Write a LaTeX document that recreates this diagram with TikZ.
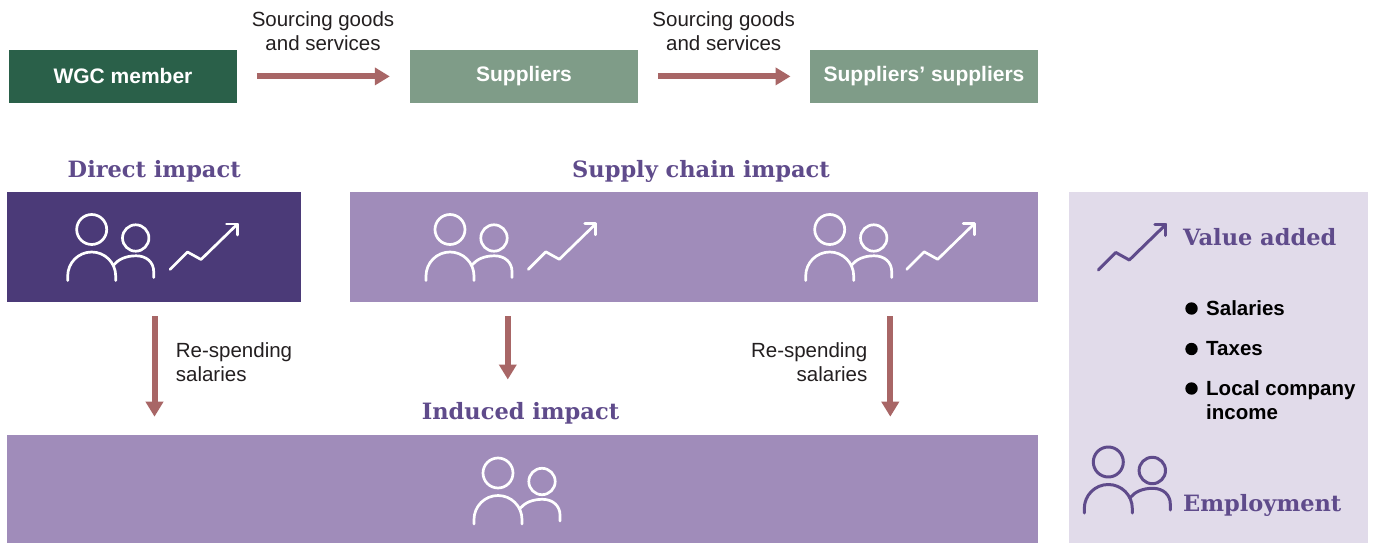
\documentclass[tikz,border=0pt]{standalone}
\usepackage{fontspec}
\setmainfont{Liberation Sans}
\newfontfamily\slab{DejaVu Serif}
\usetikzlibrary{arrows.meta}
\definecolor{dgreen}{HTML}{2A6049}
\definecolor{lgreen}{HTML}{7F9C88}
\definecolor{arrowred}{HTML}{A86666}
\definecolor{dpurple}{HTML}{4B3A78}
\definecolor{mpurple}{HTML}{A08CBA}
\definecolor{lpurple}{HTML}{E1DBEA}
\definecolor{hpurple}{HTML}{5F4B8B}
\definecolor{txt}{HTML}{231F20}
\tikzset{
  box/.style={inner sep=0pt, minimum height=53pt, minimum width=228pt, text=white,
    font=\bfseries\fontsize{21}{25}\selectfont},
  panel/.style={inner sep=0pt},
  flow/.style={draw=arrowred, line width=6pt, -{Triangle[length=15pt,width=17pt]}},
  heading/.style={text=hpurple, font=\slab\bfseries\fontsize{22.5}{26}\selectfont, inner sep=0pt, anchor=base},
  lbl/.style={text=txt, font=\fontsize{20.5}{24}\selectfont, inner sep=0pt},
  bul/.style={text=black, font=\bfseries\fontsize{20.5}{24}\selectfont, inner sep=0pt, anchor=base west},
  people/.pic={
    \draw (0,0) circle[radius=15];
    \draw (44,8.5) circle[radius=13.2];
    \draw (-24,51) -- (-24,46.5) arc[start angle=180,end angle=360,radius=24] -- (24,51);
    \draw (22,35.5) .. controls (26.5,30) and (34,26.3) .. (44.5,26.3)
          .. controls (55,26.3) and (62,33) .. (62,42) -- (62,48);
  },
  trend/.pic={
    \draw (0,0) -- (17.5,-17.5) -- (31,-10) -- (67.5,-45.5);
    \draw (56.5,-45.5) -- (67.5,-45.5) -- (67.5,-34.5);
  },
  icon/.style={line width=2.7pt, line cap=round, line join=round}
}
\begin{document}
\begin{tikzpicture}[x=1pt,y=-1pt]
\useasboundingbox (0,0) rectangle (1373,543);
\fill[white] (0,0) rectangle (1373,543);

% top row
\node[box, fill=dgreen] (wgc) at (123,76.4) {WGC member};
\node[box, fill=lgreen] (sup) at (524,76.4) {Suppliers};
\node[box, fill=lgreen] (supsup) at (924,76.4) {Suppliers’ suppliers};
\draw[flow] ([xshift=19.7pt]wgc.east) -- ([xshift=-20pt]sup.west);
\draw[flow] ([xshift=19.7pt]sup.east) -- ([xshift=-19.3pt]supsup.west);
\node[lbl, anchor=base] (s1a) at (323,27) {Sourcing goods};
\node[lbl, anchor=base] (s1b) at (323,51) {and services};
\node[lbl, anchor=base] (s2a) at (723.7,27) {Sourcing goods};
\node[lbl, anchor=base] (s2b) at (723.7,51) {and services};

% headings
\node[heading] (hdirect) at (154.2,177) {Direct impact};
\node[heading] (hsupply) at (701,177) {Supply chain impact};
\node[heading] (hinduced) at (520.5,419.5) {Induced impact};

% impact boxes
\node[panel, fill=dpurple, minimum width=294pt, minimum height=109.7pt] (direct) at (154,246.8) {};
\node[panel, fill=mpurple, minimum width=688pt, minimum height=109.7pt] (supply) at (694,246.8) {};
\node[panel, fill=mpurple, minimum width=1031pt, minimum height=108pt] (induced) at (522.5,489) {};
\node[panel, fill=lpurple, minimum width=299pt, minimum height=351pt] (legend) at (1218.5,367.5) {};

% icons
\begin{scope}[icon, draw=white]
  \pic at (91.7,229.5) {people};
  \pic at (170,269.5) {trend};
  \pic at (450,229.5) {people};
  \pic at (528.3,269.3) {trend};
  \pic at (829.7,229.5) {people};
  \pic at (906.7,269.3) {trend};
  \pic at (498,473) {people};
\end{scope}
\begin{scope}[icon, draw=hpurple, line width=3pt]
  \pic at (1098.3,270) {trend};
  \pic at (1108.3,462) {people};
\end{scope}

% down arrows
\coordinate (d1s) at (154.5,316);
\coordinate (d1e) at (154.5,416.7);
\coordinate (d2s) at (507.8,316);
\coordinate (d2e) at (507.8,379.5);
\coordinate (d3s) at (890.3,316);
\coordinate (d3e) at (890.3,416.7);
\draw[flow] (d1s) -- (d1e);
\draw[flow] (d2s) -- (d2e);
\draw[flow] (d3s) -- (d3e);
\node[lbl, anchor=base west] (r1a) at (175.7,357) {Re-spending};
\node[lbl, anchor=base west] (r1b) at (175.7,381) {salaries};
\node[lbl, anchor=base east] (r2a) at (867.5,357.5) {Re-spending};
\node[lbl, anchor=base east] (r2b) at (867.5,381) {salaries};

% legend
\node[heading, anchor=base west] (hva) at (1183,245) {Value added};
\node[heading, anchor=base west] (hemp) at (1183,511.7) {Employment};
\fill (1191.5,308.5) circle[radius=6.2];
\fill (1191.5,349) circle[radius=6.2];
\fill (1191.5,388.5) circle[radius=6.2];
\node[bul] (b1) at (1206,315) {Salaries};
\node[bul] (b2) at (1206,355.5) {Taxes};
\node[bul] (b3) at (1206,395) {Local company};
\node[bul] (b4) at (1206,419.3) {income};
\end{tikzpicture}
\end{document}
